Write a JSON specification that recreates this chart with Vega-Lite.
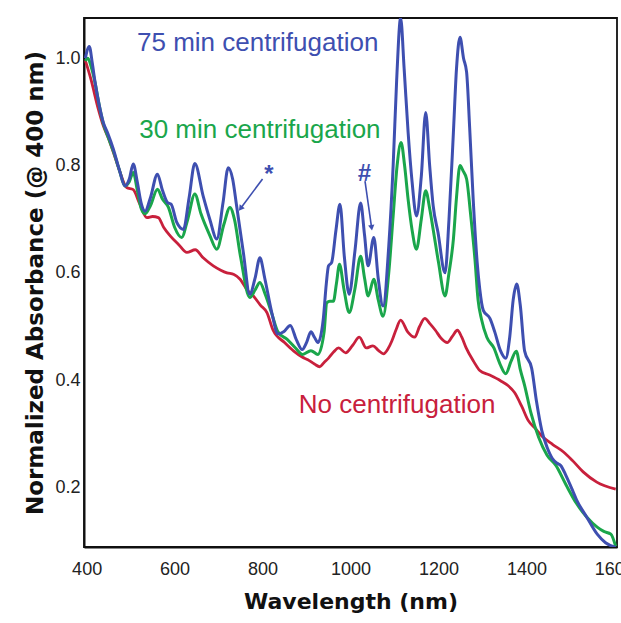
{
  "$schema": "https://vega.github.io/schema/vega-lite/v6.json",
  "width": 533,
  "height": 529,
  "autosize": {"type": "none"},
  "padding": {"left": 84, "top": 18, "right": 4, "bottom": 76},
  "background": "white",
  "config": {
    "view": {"stroke": "#111", "strokeWidth": 1.8},
    "axis": {
      "grid": false,
      "ticks": false,
      "domainColor": "#111",
      "domainWidth": 2,
      "labelFont": "Liberation Sans",
      "labelFontSize": 18,
      "labelColor": "#222",
      "titleFont": "DejaVu Sans",
      "titleFontSize": 22,
      "titleFontWeight": "bold",
      "titleColor": "#111"
    }
  },
  "datasets": {
    "spectra": [
      {"series": "75 min", "wl": 397, "v": 1.0},
      {"series": "75 min", "wl": 406, "v": 1.022},
      {"series": "75 min", "wl": 413, "v": 0.99},
      {"series": "75 min", "wl": 419, "v": 0.956},
      {"series": "75 min", "wl": 428, "v": 0.915},
      {"series": "75 min", "wl": 438, "v": 0.88},
      {"series": "75 min", "wl": 448, "v": 0.86},
      {"series": "75 min", "wl": 461, "v": 0.83},
      {"series": "75 min", "wl": 475, "v": 0.79},
      {"series": "75 min", "wl": 487, "v": 0.762},
      {"series": "75 min", "wl": 497, "v": 0.775},
      {"series": "75 min", "wl": 506, "v": 0.803},
      {"series": "75 min", "wl": 515, "v": 0.77},
      {"series": "75 min", "wl": 524, "v": 0.73},
      {"series": "75 min", "wl": 533, "v": 0.715},
      {"series": "75 min", "wl": 545, "v": 0.74},
      {"series": "75 min", "wl": 561, "v": 0.784},
      {"series": "75 min", "wl": 572, "v": 0.755},
      {"series": "75 min", "wl": 584, "v": 0.731},
      {"series": "75 min", "wl": 592, "v": 0.728},
      {"series": "75 min", "wl": 605, "v": 0.694},
      {"series": "75 min", "wl": 620, "v": 0.681},
      {"series": "75 min", "wl": 633, "v": 0.74},
      {"series": "75 min", "wl": 646, "v": 0.804},
      {"series": "75 min", "wl": 665, "v": 0.743},
      {"series": "75 min", "wl": 680, "v": 0.7},
      {"series": "75 min", "wl": 696, "v": 0.663},
      {"series": "75 min", "wl": 710, "v": 0.73},
      {"series": "75 min", "wl": 722, "v": 0.796},
      {"series": "75 min", "wl": 732, "v": 0.775},
      {"series": "75 min", "wl": 741, "v": 0.725},
      {"series": "75 min", "wl": 756, "v": 0.64},
      {"series": "75 min", "wl": 771, "v": 0.56},
      {"series": "75 min", "wl": 783, "v": 0.59},
      {"series": "75 min", "wl": 794, "v": 0.628},
      {"series": "75 min", "wl": 805, "v": 0.59},
      {"series": "75 min", "wl": 821, "v": 0.526},
      {"series": "75 min", "wl": 835, "v": 0.486},
      {"series": "75 min", "wl": 848, "v": 0.49},
      {"series": "75 min", "wl": 863, "v": 0.502},
      {"series": "75 min", "wl": 877, "v": 0.475},
      {"series": "75 min", "wl": 890, "v": 0.457},
      {"series": "75 min", "wl": 900, "v": 0.47},
      {"series": "75 min", "wl": 910, "v": 0.49},
      {"series": "75 min", "wl": 918, "v": 0.48},
      {"series": "75 min", "wl": 926, "v": 0.47},
      {"series": "75 min", "wl": 938, "v": 0.513},
      {"series": "75 min", "wl": 945, "v": 0.58},
      {"series": "75 min", "wl": 950, "v": 0.613},
      {"series": "75 min", "wl": 957, "v": 0.619},
      {"series": "75 min", "wl": 967, "v": 0.68},
      {"series": "75 min", "wl": 976, "v": 0.728},
      {"series": "75 min", "wl": 986, "v": 0.63},
      {"series": "75 min", "wl": 997, "v": 0.56},
      {"series": "75 min", "wl": 1010, "v": 0.64},
      {"series": "75 min", "wl": 1023, "v": 0.73},
      {"series": "75 min", "wl": 1032, "v": 0.67},
      {"series": "75 min", "wl": 1040, "v": 0.613},
      {"series": "75 min", "wl": 1053, "v": 0.666},
      {"series": "75 min", "wl": 1063, "v": 0.59},
      {"series": "75 min", "wl": 1074, "v": 0.538},
      {"series": "75 min", "wl": 1087, "v": 0.65},
      {"series": "75 min", "wl": 1097, "v": 0.8},
      {"series": "75 min", "wl": 1105, "v": 0.96},
      {"series": "75 min", "wl": 1114, "v": 1.075},
      {"series": "75 min", "wl": 1122, "v": 0.98},
      {"series": "75 min", "wl": 1131, "v": 0.862},
      {"series": "75 min", "wl": 1140, "v": 0.77},
      {"series": "75 min", "wl": 1150, "v": 0.706},
      {"series": "75 min", "wl": 1161, "v": 0.78},
      {"series": "75 min", "wl": 1171, "v": 0.899},
      {"series": "75 min", "wl": 1180, "v": 0.8},
      {"series": "75 min", "wl": 1188, "v": 0.725},
      {"series": "75 min", "wl": 1199, "v": 0.675},
      {"series": "75 min", "wl": 1215, "v": 0.6},
      {"series": "75 min", "wl": 1224, "v": 0.7},
      {"series": "75 min", "wl": 1234, "v": 0.862},
      {"series": "75 min", "wl": 1241, "v": 0.98},
      {"series": "75 min", "wl": 1249, "v": 1.039},
      {"series": "75 min", "wl": 1257, "v": 1.0},
      {"series": "75 min", "wl": 1264, "v": 0.974},
      {"series": "75 min", "wl": 1271, "v": 0.87},
      {"series": "75 min", "wl": 1279, "v": 0.737},
      {"series": "75 min", "wl": 1288, "v": 0.62},
      {"series": "75 min", "wl": 1294, "v": 0.569},
      {"series": "75 min", "wl": 1302, "v": 0.53},
      {"series": "75 min", "wl": 1317, "v": 0.515},
      {"series": "75 min", "wl": 1328, "v": 0.49},
      {"series": "75 min", "wl": 1341, "v": 0.455},
      {"series": "75 min", "wl": 1353, "v": 0.441},
      {"series": "75 min", "wl": 1362, "v": 0.48},
      {"series": "75 min", "wl": 1370, "v": 0.55},
      {"series": "75 min", "wl": 1378, "v": 0.579},
      {"series": "75 min", "wl": 1386, "v": 0.54},
      {"series": "75 min", "wl": 1396, "v": 0.454},
      {"series": "75 min", "wl": 1412, "v": 0.422},
      {"series": "75 min", "wl": 1423, "v": 0.36},
      {"series": "75 min", "wl": 1435, "v": 0.306},
      {"series": "75 min", "wl": 1447, "v": 0.275},
      {"series": "75 min", "wl": 1459, "v": 0.254},
      {"series": "75 min", "wl": 1470, "v": 0.245},
      {"series": "75 min", "wl": 1478, "v": 0.241},
      {"series": "75 min", "wl": 1490, "v": 0.222},
      {"series": "75 min", "wl": 1502, "v": 0.2},
      {"series": "75 min", "wl": 1514, "v": 0.177},
      {"series": "75 min", "wl": 1537, "v": 0.145},
      {"series": "75 min", "wl": 1561, "v": 0.113},
      {"series": "75 min", "wl": 1580, "v": 0.097},
      {"series": "75 min", "wl": 1603, "v": 0.088},

      {"series": "30 min", "wl": 397, "v": 0.995},
      {"series": "30 min", "wl": 403, "v": 1.0},
      {"series": "30 min", "wl": 410, "v": 0.985},
      {"series": "30 min", "wl": 419, "v": 0.955},
      {"series": "30 min", "wl": 428, "v": 0.915},
      {"series": "30 min", "wl": 438, "v": 0.878},
      {"series": "30 min", "wl": 448, "v": 0.855},
      {"series": "30 min", "wl": 461, "v": 0.826},
      {"series": "30 min", "wl": 475, "v": 0.79},
      {"series": "30 min", "wl": 487, "v": 0.762},
      {"series": "30 min", "wl": 497, "v": 0.77},
      {"series": "30 min", "wl": 506, "v": 0.787},
      {"series": "30 min", "wl": 515, "v": 0.755},
      {"series": "30 min", "wl": 524, "v": 0.72},
      {"series": "30 min", "wl": 533, "v": 0.71},
      {"series": "30 min", "wl": 545, "v": 0.725},
      {"series": "30 min", "wl": 561, "v": 0.756},
      {"series": "30 min", "wl": 572, "v": 0.738},
      {"series": "30 min", "wl": 586, "v": 0.722},
      {"series": "30 min", "wl": 600, "v": 0.685},
      {"series": "30 min", "wl": 616, "v": 0.666},
      {"series": "30 min", "wl": 630, "v": 0.7},
      {"series": "30 min", "wl": 646, "v": 0.747},
      {"series": "30 min", "wl": 660, "v": 0.71},
      {"series": "30 min", "wl": 680, "v": 0.67},
      {"series": "30 min", "wl": 696, "v": 0.644},
      {"series": "30 min", "wl": 712, "v": 0.69},
      {"series": "30 min", "wl": 726, "v": 0.722},
      {"series": "30 min", "wl": 736, "v": 0.7},
      {"series": "30 min", "wl": 750, "v": 0.63},
      {"series": "30 min", "wl": 771, "v": 0.554},
      {"series": "30 min", "wl": 783, "v": 0.568},
      {"series": "30 min", "wl": 794, "v": 0.582},
      {"series": "30 min", "wl": 806, "v": 0.56},
      {"series": "30 min", "wl": 821, "v": 0.524},
      {"series": "30 min", "wl": 835, "v": 0.49},
      {"series": "30 min", "wl": 856, "v": 0.476},
      {"series": "30 min", "wl": 875, "v": 0.46},
      {"series": "30 min", "wl": 891, "v": 0.448},
      {"series": "30 min", "wl": 910, "v": 0.455},
      {"series": "30 min", "wl": 926, "v": 0.448},
      {"series": "30 min", "wl": 940, "v": 0.49},
      {"series": "30 min", "wl": 946, "v": 0.544},
      {"series": "30 min", "wl": 953, "v": 0.547},
      {"series": "30 min", "wl": 961, "v": 0.547},
      {"series": "30 min", "wl": 968, "v": 0.58},
      {"series": "30 min", "wl": 975, "v": 0.616},
      {"series": "30 min", "wl": 985, "v": 0.57},
      {"series": "30 min", "wl": 997, "v": 0.526},
      {"series": "30 min", "wl": 1010, "v": 0.57},
      {"series": "30 min", "wl": 1023, "v": 0.631},
      {"series": "30 min", "wl": 1032, "v": 0.59},
      {"series": "30 min", "wl": 1040, "v": 0.557},
      {"series": "30 min", "wl": 1053, "v": 0.588},
      {"series": "30 min", "wl": 1063, "v": 0.55},
      {"series": "30 min", "wl": 1074, "v": 0.519},
      {"series": "30 min", "wl": 1087, "v": 0.6},
      {"series": "30 min", "wl": 1097, "v": 0.706},
      {"series": "30 min", "wl": 1106, "v": 0.8},
      {"series": "30 min", "wl": 1115, "v": 0.843},
      {"series": "30 min", "wl": 1123, "v": 0.8},
      {"series": "30 min", "wl": 1131, "v": 0.737},
      {"series": "30 min", "wl": 1140, "v": 0.68},
      {"series": "30 min", "wl": 1150, "v": 0.644},
      {"series": "30 min", "wl": 1161, "v": 0.7},
      {"series": "30 min", "wl": 1171, "v": 0.753},
      {"series": "30 min", "wl": 1180, "v": 0.72},
      {"series": "30 min", "wl": 1188, "v": 0.681},
      {"series": "30 min", "wl": 1200, "v": 0.62},
      {"series": "30 min", "wl": 1215, "v": 0.557},
      {"series": "30 min", "wl": 1224, "v": 0.6},
      {"series": "30 min", "wl": 1234, "v": 0.663},
      {"series": "30 min", "wl": 1241, "v": 0.74},
      {"series": "30 min", "wl": 1249, "v": 0.8},
      {"series": "30 min", "wl": 1256, "v": 0.79},
      {"series": "30 min", "wl": 1264, "v": 0.775},
      {"series": "30 min", "wl": 1273, "v": 0.71},
      {"series": "30 min", "wl": 1283, "v": 0.625},
      {"series": "30 min", "wl": 1290, "v": 0.55},
      {"series": "30 min", "wl": 1298, "v": 0.513},
      {"series": "30 min", "wl": 1310, "v": 0.48},
      {"series": "30 min", "wl": 1326, "v": 0.46},
      {"series": "30 min", "wl": 1340, "v": 0.43},
      {"series": "30 min", "wl": 1353, "v": 0.412},
      {"series": "30 min", "wl": 1365, "v": 0.435},
      {"series": "30 min", "wl": 1377, "v": 0.454},
      {"series": "30 min", "wl": 1386, "v": 0.42},
      {"series": "30 min", "wl": 1396, "v": 0.39},
      {"series": "30 min", "wl": 1410, "v": 0.34},
      {"series": "30 min", "wl": 1428, "v": 0.293},
      {"series": "30 min", "wl": 1447, "v": 0.26},
      {"series": "30 min", "wl": 1467, "v": 0.241},
      {"series": "30 min", "wl": 1490, "v": 0.205},
      {"series": "30 min", "wl": 1514, "v": 0.17},
      {"series": "30 min", "wl": 1537, "v": 0.145},
      {"series": "30 min", "wl": 1561, "v": 0.126},
      {"series": "30 min", "wl": 1576, "v": 0.118},
      {"series": "30 min", "wl": 1592, "v": 0.113},
      {"series": "30 min", "wl": 1603, "v": 0.09},

      {"series": "none", "wl": 397, "v": 0.996},
      {"series": "none", "wl": 410, "v": 0.96},
      {"series": "none", "wl": 425, "v": 0.91},
      {"series": "none", "wl": 438, "v": 0.874},
      {"series": "none", "wl": 450, "v": 0.85},
      {"series": "none", "wl": 461, "v": 0.824},
      {"series": "none", "wl": 475, "v": 0.79},
      {"series": "none", "wl": 491, "v": 0.759},
      {"series": "none", "wl": 506, "v": 0.755},
      {"series": "none", "wl": 520, "v": 0.73},
      {"series": "none", "wl": 537, "v": 0.703},
      {"series": "none", "wl": 550, "v": 0.705},
      {"series": "none", "wl": 563, "v": 0.703},
      {"series": "none", "wl": 575, "v": 0.685},
      {"series": "none", "wl": 590, "v": 0.669},
      {"series": "none", "wl": 610, "v": 0.652},
      {"series": "none", "wl": 628, "v": 0.638},
      {"series": "none", "wl": 647, "v": 0.643},
      {"series": "none", "wl": 665, "v": 0.628},
      {"series": "none", "wl": 688, "v": 0.613},
      {"series": "none", "wl": 705, "v": 0.605},
      {"series": "none", "wl": 719, "v": 0.6},
      {"series": "none", "wl": 735, "v": 0.597},
      {"series": "none", "wl": 749, "v": 0.588},
      {"series": "none", "wl": 765, "v": 0.568},
      {"series": "none", "wl": 779, "v": 0.557},
      {"series": "none", "wl": 795, "v": 0.54},
      {"series": "none", "wl": 810, "v": 0.526},
      {"series": "none", "wl": 824, "v": 0.493},
      {"series": "none", "wl": 850, "v": 0.47},
      {"series": "none", "wl": 871, "v": 0.454},
      {"series": "none", "wl": 890, "v": 0.443},
      {"series": "none", "wl": 903, "v": 0.438},
      {"series": "none", "wl": 918, "v": 0.43},
      {"series": "none", "wl": 930, "v": 0.425},
      {"series": "none", "wl": 940, "v": 0.433},
      {"series": "none", "wl": 950, "v": 0.441},
      {"series": "none", "wl": 962, "v": 0.453},
      {"series": "none", "wl": 973, "v": 0.46},
      {"series": "none", "wl": 989, "v": 0.451},
      {"series": "none", "wl": 1005, "v": 0.465},
      {"series": "none", "wl": 1020, "v": 0.48},
      {"series": "none", "wl": 1036, "v": 0.46},
      {"series": "none", "wl": 1051, "v": 0.464},
      {"series": "none", "wl": 1064, "v": 0.455},
      {"series": "none", "wl": 1075, "v": 0.449},
      {"series": "none", "wl": 1085, "v": 0.458},
      {"series": "none", "wl": 1094, "v": 0.473},
      {"series": "none", "wl": 1104, "v": 0.495},
      {"series": "none", "wl": 1114, "v": 0.512},
      {"series": "none", "wl": 1130, "v": 0.49},
      {"series": "none", "wl": 1146, "v": 0.48},
      {"series": "none", "wl": 1157, "v": 0.5},
      {"series": "none", "wl": 1169, "v": 0.515},
      {"series": "none", "wl": 1181, "v": 0.505},
      {"series": "none", "wl": 1193, "v": 0.493},
      {"series": "none", "wl": 1206, "v": 0.478},
      {"series": "none", "wl": 1220, "v": 0.47},
      {"series": "none", "wl": 1232, "v": 0.482},
      {"series": "none", "wl": 1243, "v": 0.493},
      {"series": "none", "wl": 1253, "v": 0.48},
      {"series": "none", "wl": 1263, "v": 0.46},
      {"series": "none", "wl": 1280, "v": 0.435},
      {"series": "none", "wl": 1294, "v": 0.418},
      {"series": "none", "wl": 1315, "v": 0.41},
      {"series": "none", "wl": 1341, "v": 0.399},
      {"series": "none", "wl": 1358, "v": 0.39},
      {"series": "none", "wl": 1373, "v": 0.377},
      {"series": "none", "wl": 1390, "v": 0.35},
      {"series": "none", "wl": 1404, "v": 0.325},
      {"series": "none", "wl": 1420, "v": 0.31},
      {"series": "none", "wl": 1435, "v": 0.296},
      {"series": "none", "wl": 1460, "v": 0.28},
      {"series": "none", "wl": 1483, "v": 0.267},
      {"series": "none", "wl": 1505, "v": 0.25},
      {"series": "none", "wl": 1529, "v": 0.229},
      {"series": "none", "wl": 1560, "v": 0.21},
      {"series": "none", "wl": 1603, "v": 0.197}
    ],
    "labels": [
      {"series": "75 min", "wl": 789, "v": 1.029, "text": "75 min centrifugation"},
      {"series": "30 min", "wl": 794, "v": 0.866, "text": "30 min centrifugation"},
      {"series": "none", "wl": 1106, "v": 0.354, "text": "No centrifugation"}
    ],
    "symbols": [
      {"series": "75 min", "wl": 812, "v": 0.782, "text": "*"},
      {"series": "75 min", "wl": 1031, "v": 0.784, "text": "#"}
    ],
    "arrows": [
      {"arrow": "star", "wl": 800, "v": 0.775, "wl2": 750, "v2": 0.72},
      {"arrow": "hash", "wl": 1033, "v": 0.771, "wl2": 1048, "v2": 0.684}
    ],
    "heads": [
      {"arrow": "star", "wl": 750, "v": 0.72},
      {"arrow": "hash", "wl": 1048, "v": 0.684}
    ],
    "xticks": [
      {"wl": 400}, {"wl": 600}, {"wl": 800}, {"wl": 1000}, {"wl": 1200}, {"wl": 1400}, {"wl": 1600}
    ],
    "yticks": [
      {"v": 0.2}, {"v": 0.4}, {"v": 0.6}, {"v": 0.8}, {"v": 1.0}
    ]
  },
  "encoding": {
    "x": {
      "field": "wl", "type": "quantitative",
      "scale": {"domain": [394, 1606], "nice": false, "zero": false},
      "axis": {
        "title": "Wavelength (nm)",
        "values": [400, 600, 800, 1000, 1200, 1400, 1600],
        "format": "d",
        "labelPadding": 13,
        "titlePadding": 13
      }
    },
    "y": {
      "field": "v", "type": "quantitative",
      "scale": {"domain": [0.089, 1.075], "nice": false, "zero": false},
      "axis": {
        "title": "Normalized Absorbance (@ 400 nm)",
        "values": [0.2, 0.4, 0.6, 0.8, 1.0],
        "format": ".1f",
        "labelPadding": 4,
        "titlePadding": 7,
        "titleFontSize": 23
      }
    },
    "color": {
      "field": "series", "type": "nominal",
      "scale": {"domain": ["75 min", "30 min", "none"], "range": ["#3e4fb0", "#1aa64b", "#c8203c"]},
      "legend": null
    }
  },
  "layer": [
    {
      "data": {"name": "xticks"},
      "mark": {"type": "rule", "strokeWidth": 2},
      "encoding": {
        "y": {"datum": 0.089},
        "y2": {"datum": 0.1133},
        "color": {"value": "#111"}
      }
    },
    {
      "data": {"name": "yticks"},
      "mark": {"type": "rule", "strokeWidth": 2},
      "encoding": {
        "x": {"datum": 387.5},
        "x2": {"datum": 417},
        "color": {"value": "#111"}
      }
    },
    {
      "data": {"name": "spectra"},
      "transform": [{"filter": "datum.series === 'none'"}],
      "mark": {"type": "line", "strokeWidth": 2.8, "interpolate": "monotone", "clip": true}
    },
    {
      "data": {"name": "spectra"},
      "transform": [{"filter": "datum.series === '30 min'"}],
      "mark": {"type": "line", "strokeWidth": 3, "interpolate": "monotone", "clip": true}
    },
    {
      "data": {"name": "spectra"},
      "transform": [{"filter": "datum.series === '75 min'"}],
      "mark": {"type": "line", "strokeWidth": 3, "interpolate": "monotone", "clip": true}
    },
    {
      "data": {"name": "labels"},
      "mark": {"type": "text", "font": "Liberation Sans", "fontSize": 26, "align": "center", "baseline": "middle"},
      "encoding": {"text": {"field": "text"}}
    },
    {
      "data": {"name": "symbols"},
      "mark": {"type": "text", "font": "Liberation Sans", "fontSize": 24, "fontWeight": "bold", "fontStyle": "italic", "align": "center", "baseline": "middle"},
      "encoding": {"text": {"field": "text"}}
    },
    {
      "data": {"name": "arrows"},
      "mark": {"type": "rule", "strokeWidth": 1.6},
      "encoding": {
        "x2": {"field": "wl2"},
        "y2": {"field": "v2"},
        "color": {"value": "#3e4fb0"}
      }
    },
    {
      "data": {"name": "heads"},
      "transform": [{"filter": "datum.arrow === 'star'"}],
      "mark": {"type": "point", "shape": "triangle-up", "filled": true, "size": 40, "angle": 217, "opacity": 1},
      "encoding": {"color": {"value": "#3e4fb0"}}
    },
    {
      "data": {"name": "heads"},
      "transform": [{"filter": "datum.arrow === 'hash'"}],
      "mark": {"type": "point", "shape": "triangle-up", "filled": true, "size": 40, "angle": 172, "opacity": 1},
      "encoding": {"color": {"value": "#3e4fb0"}}
    }
  ]
}
